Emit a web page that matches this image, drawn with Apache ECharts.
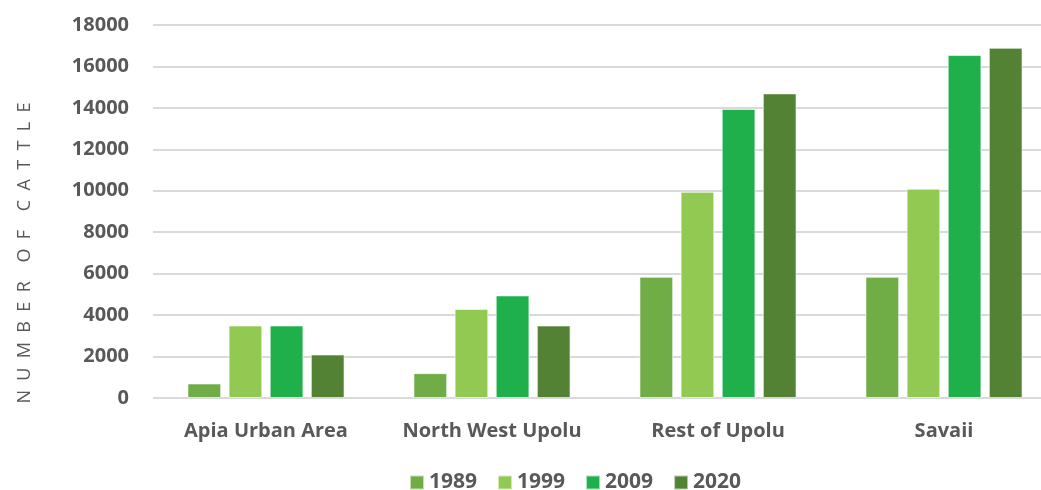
<!DOCTYPE html>
<html>
<head>
<meta charset="utf-8">
<script src="https://cdn.jsdelivr.net/npm/echarts@6/dist/echarts.min.js"></script>
<style>html,body{margin:0;padding:0;background:#fff}#c{width:1041px;height:490px}</style>
</head>
<body>
<div id="c"></div>
<script>
const categories = ['Apia Urban Area', 'North West Upolu', 'Rest of Upolu', 'Savaii'];
const seriesNames = ['1989', '1999', '2009', '2020'];
const v1989 = [700, 1200, 5850, 5850];
const v1999 = [3500, 4300, 9950, 10100];
const v2009 = [3500, 4950, 13950, 16550];
const v2020 = [2100, 3500, 14700, 16900];
const yTicks = [0, 2000, 4000, 6000, 8000, 10000, 12000, 14000, 16000, 18000];
const colors = ['#70AD47', '#92C953', '#20B04B', '#548235'];
const values = [v1989, v1999, v2009, v2020];

const chart = echarts.init(document.getElementById('c'));
const fontFam = '"Open Sans", sans-serif';
chart.setOption({
  animation: false,
  grid: { left: 153, top: 25, right: -16, bottom: 92, outerBoundsMode: 'none', containLabel: false },
  legend: {
    left: 404, top: 467,
    itemWidth: 14, itemHeight: 14, itemGap: 20,
    icon: 'rect',
    textStyle: { color: '#595959', fontSize: 21, fontWeight: 'bold', fontFamily: fontFam },
    data: seriesNames
  },
  xAxis: {
    type: 'category', data: categories,
    axisLine: { show: false }, axisTick: { show: false },
    axisLabel: { color: '#595959', fontSize: 20, fontWeight: 'bold', fontFamily: fontFam, margin: 23,
      interval: 0, hideOverlap: false, showMinLabel: true, showMaxLabel: true }
  },
  yAxis: {
    type: 'value', min: 0, max: 18000, interval: 2000,
    axisLine: { show: false }, axisTick: { show: false },
    axisLabel: { color: '#595959', fontSize: 20, fontWeight: 'bold', fontFamily: fontFam, margin: 24,
      formatter: v => yTicks.includes(v) ? String(v) : '' },
    splitLine: { lineStyle: { color: '#D9D9D9', width: 2 } }
  },
  graphic: [{
    type: 'text', rotation: Math.PI / 2,
    x: 25, y: 253,
    style: { text: 'N  U  M  B  E  R    O  F    C  A  T  T  L  E', fill: '#595959', fontSize: 18, fontFamily: fontFam, align: 'center', verticalAlign: 'middle' }
  }],
  series: seriesNames.map((n, i) => ({
    name: n, type: 'bar', data: values[i],
    barGap: '22%', barCategoryGap: '30.5%',
    itemStyle: { color: colors[i], borderColor: 'rgba(255,255,255,0.6)', borderWidth: 1 }
  }))
});
</script>
</body>
</html>
